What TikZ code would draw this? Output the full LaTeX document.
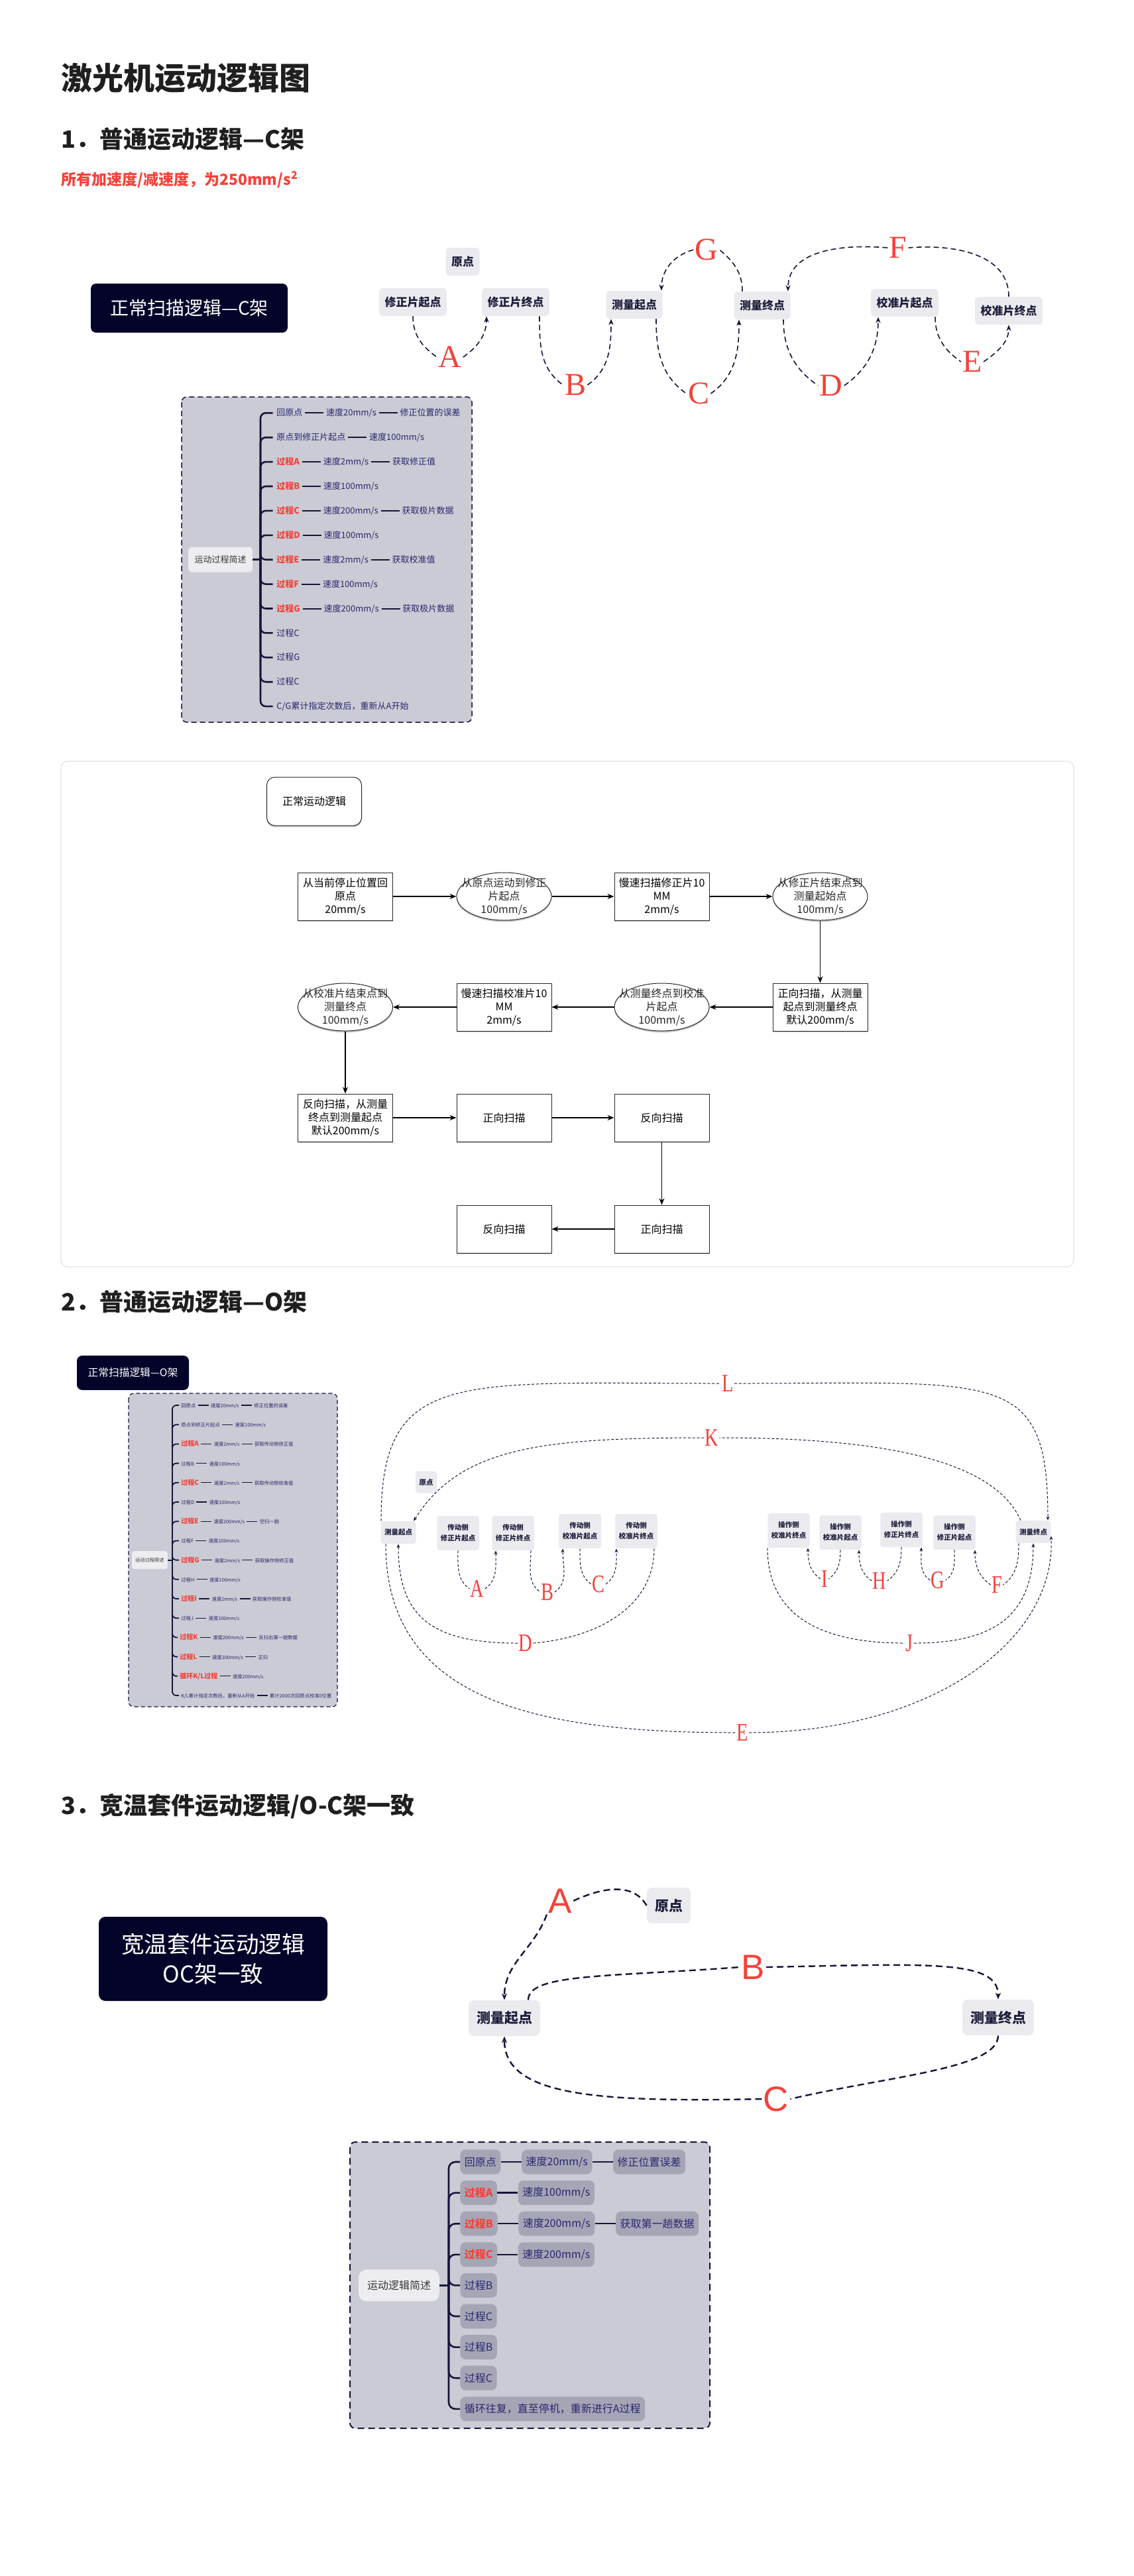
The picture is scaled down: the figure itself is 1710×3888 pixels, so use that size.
\documentclass[tikz,border=0pt]{standalone}
\usepackage{fontspec}
\setmainfont{Noto Sans CJK SC}
\newfontfamily\lserif{Liberation Serif}
\newfontfamily\lsans{Liberation Sans}
\usetikzlibrary{positioning,shapes.geometric,arrows.meta,shadows}
\definecolor{darknavy}{HTML}{04042A}
\definecolor{linenavy}{HTML}{15153A}
\definecolor{nodegray}{HTML}{EBEAEF}
\definecolor{mmfill}{HTML}{CBCBD5}
\definecolor{pillfill}{HTML}{A6A5B6}
\definecolor{textnavy}{HTML}{27276E}
\definecolor{lred}{HTML}{F4423A}
\definecolor{nodetext}{HTML}{1D1D3A}
\definecolor{titlegray}{HTML}{1F1F1F}
\definecolor{rootfill}{HTML}{EDECF1}
\definecolor{framegray}{HTML}{E2E2E2}
\newcommand{\myfs}[2]{\fontsize{#1}{#2}\selectfont}
\begin{document}
\begin{tikzpicture}[x=0.5pt,y=-0.5pt,
  heading/.style={anchor=west,inner sep=0pt,text=titlegray,font=\bfseries\myfs{18}{20}},
  darkbox/.style={fill=darknavy,rounded corners=4pt,text=white,align=center,inner sep=0pt},
  anode/.style={fill=nodegray,rounded corners=3pt,text=nodetext,font=\bfseries\myfs{8.5}{10},inner xsep=4.25pt,inner ysep=0pt,minimum height=21pt},
  anodeb/.style={fill=nodegray,rounded corners=2pt,text=nodetext,font=\bfseries\myfs{5.25}{8},align=center,inner xsep=2.75pt,inner ysep=0pt,minimum height=17pt},
  anodec/.style={anodeb,minimum height=26pt,minimum width=31.5pt},
  anoded/.style={fill=nodegray,rounded corners=4pt,text=nodetext,font=\bfseries\myfs{10.5}{12},inner xsep=6pt,inner ysep=0pt,minimum height=27pt},
  lab1/.style={text=lred,font=\lserif\myfs{24}{24},inner sep=1pt},
  lab2/.style={text=lred,font=\lserif\myfs{19}{19},inner sep=0.5pt},
  lab3/.style={text=lred,font=\lsans\myfs{26.5}{26.5},inner sep=1pt},
  conn1/.style={draw=linenavy,line width=0.8pt,dash pattern=on 4pt off 2.5pt},
  conn2/.style={draw=linenavy,line width=0.5pt,dash pattern=on 2pt off 1.4pt},
  conn3/.style={draw=linenavy,line width=1.2pt,dash pattern=on 5pt off 3pt},
  tip1/.style={-{Stealth[length=4.5pt,width=3.6pt]}},
  tip2/.style={-{Stealth[length=3pt,width=2.5pt]}},
  tip3/.style={-{Stealth[length=5pt,width=4pt]}},
  mmbox/.style={fill=mmfill,draw=linenavy,line width=0.75pt,dash pattern=on 4pt off 2.5pt,rounded corners=4pt},
  mroot/.style={fill=rootfill,rounded corners=3pt,text=black!78,inner sep=0pt},
  mi1/.style={text=textnavy,font=\myfs{6.5}{7},inner xsep=1.75pt,inner ysep=0.5pt,text height=5.6pt,text depth=1pt},
  mr1/.style={mi1,text=lred,font=\bfseries\myfs{6.5}{7}},
  mi2/.style={text=textnavy,font=\myfs{3.65}{4},inner xsep=1.5pt,inner ysep=0.3pt,text height=4.2pt,text depth=0.8pt},
  mr2/.style={mi2,text=lred,font=\bfseries\myfs{5}{5.5}},
  pill/.style={fill=pillfill,rounded corners=4pt,text=textnavy,font=\myfs{8}{9},inner xsep=3.25pt,inner ysep=0pt,minimum height=18.5pt},
  pillr/.style={pill,text=lred,font=\bfseries\myfs{8}{9}},
  ml1/.style={draw=linenavy,line width=1pt},
  ml2/.style={draw=linenavy,line width=0.6pt},
  ml3/.style={draw=linenavy,line width=1.2pt},
  spine1/.style={draw=linenavy,line width=1.3pt,rounded corners=4pt},
  spine2/.style={draw=linenavy,line width=0.9pt,rounded corners=3pt},
  spine3/.style={draw=linenavy,line width=1.3pt,rounded corners=5pt},
  fbox/.style={draw=black!85,fill=white,line width=0.5pt,minimum width=71.5pt,minimum height=36pt,inner sep=0pt,align=center,font=\myfs{8}{10},drop shadow={shadow xshift=0pt,shadow yshift=-1.2pt,opacity=0.45}},
  fell/.style={ellipse,draw=black!85,fill=white,line width=0.5pt,minimum width=71.5pt,minimum height=36pt,inner sep=0pt,drop shadow={shadow xshift=0pt,shadow yshift=-1.2pt,opacity=0.45}},
  ftext/.style={font=\myfs{8}{10},align=center,inner sep=0pt,text=black!85},
  farrow/.style={draw=black,line width=0.6pt,-{Stealth[length=5pt,width=4pt]}}
]
\fill[white] (0,0) rectangle (1710,3888);
\useasboundingbox (0,0) rectangle (1710,3888);

% ---------- titles ----------
\node[heading,font=\bfseries\myfs{23.5}{26}] (title) at (92,118) {激光机运动逻辑图};
\node[heading] (h1) at (92,210) {1．普通运动逻辑—C架};
\node[anchor=west,inner sep=0pt,text=lred,font=\bfseries\myfs{11.5}{13}] (note) at (92,271) {所有加速度/减速度，为250mm/s\textsuperscript{2}};
\node[heading] (h2) at (92,1965) {2．普通运动逻辑—O架};
\node[heading] (h3) at (92,2726) {3．宽温套件运动逻辑/O-C架一致};

% ---------- section 1 arc diagram ----------
\node[darkbox,minimum width=148.5pt,minimum height=37pt,font=\myfs{14}{16}] (tb1) at (285.5,465) {正常扫描逻辑—C架};
\node[anode] (o1) at (698,395) {原点};
\node[anode] (s1) at (623,456) {修正片起点};
\node[anode] (s2) at (778,456) {修正片终点};
\node[anode] (m1) at (957,460) {测量起点};
\node[anode] (m2) at (1150,461) {测量终点};
\node[anode] (c1) at (1365,457) {校准片起点};
\node[anode] (c2) at (1522,469) {校准片终点};
\node[lab1] (LA) at (679,539) {A};
\node[lab1] (LB) at (868,581) {B};
\node[lab1] (LC) at (1054,594) {C};
\node[lab1] (LD) at (1254,582) {D};
\node[lab1] (LE) at (1467,546) {E};
\node[lab1] (LF) at (1355,374) {F};
\node[lab1] (LG) at (1066,377) {G};
\draw[conn1] (s1.south) to[out=-90,in=145] (LA.west);
\draw[conn1,tip1] (LA.east) to[out=35,in=-90] ([xshift=-22pt]s2.south);
\draw[conn1] ([xshift=18pt]s2.south) to[out=-90,in=145] (LB.west);
\draw[conn1,tip1] (LB.east) to[out=35,in=-90] ([xshift=-17.5pt]m1.south);
\draw[conn1] ([xshift=16.5pt]m1.south) to[out=-90,in=145] (LC.west);
\draw[conn1,tip1] (LC.east) to[out=35,in=-90] ([xshift=-17.5pt]m2.south);
\draw[conn1] ([xshift=16pt]m2.south) to[out=-90,in=145] (LD.west);
\draw[conn1,tip1] (LD.east) to[out=35,in=-90] ([xshift=-20pt]c1.south);
\draw[conn1] ([xshift=23pt]c1.south) to[out=-90,in=145] (LE.west);
\draw[conn1,tip1] (LE.east) to[out=35,in=-90] (c2.south);
\draw[conn1] (c2.north) to[out=90,in=5] (LF.east);
\draw[conn1,tip1] (LF.west) to[out=175,in=90] ([xshift=19.5pt]m2.north);
\draw[conn1] ([xshift=-15pt]m2.north) to[out=90,in=-40] (LG.east);
\draw[conn1,tip1] (LG.west) to[out=195,in=90] ([xshift=20.5pt]m1.north);

% ---------- section 1 mind map ----------
\draw[mmbox] (274,599) rectangle (712,1090);
\node[mroot,minimum width=48.5pt,minimum height=19pt,font=\myfs{6.5}{7}] (root1) at (332.5,844.7) {运动过程简述};
\coordinate (sp1) at (393,844.7);
\node[mi1,anchor=west] (a1) at (413.5,623.3) {回原点};
\node[mi1,right=14pt of a1] (a1b) {速度20mm/s};
\node[mi1,right=14pt of a1b] (a1c) {修正位置的误差};
\node[mi1,anchor=west] (a2) at (413.5,660.2) {原点到修正片起点};
\node[mi1,right=14pt of a2] (a2b) {速度100mm/s};
\node[mr1,anchor=west] (a3) at (413.5,697.1) {过程A};
\node[mi1,right=14pt of a3] (a3b) {速度2mm/s};
\node[mi1,right=14pt of a3b] (a3c) {获取修正值};
\node[mr1,anchor=west] (a4) at (413.5,734.0) {过程B};
\node[mi1,right=14pt of a4] (a4b) {速度100mm/s};
\node[mr1,anchor=west] (a5) at (413.5,770.9) {过程C};
\node[mi1,right=14pt of a5] (a5b) {速度200mm/s};
\node[mi1,right=14pt of a5b] (a5c) {获取极片数据};
\node[mr1,anchor=west] (a6) at (413.5,807.8) {过程D};
\node[mi1,right=14pt of a6] (a6b) {速度100mm/s};
\node[mr1,anchor=west] (a7) at (413.5,844.7) {过程E};
\node[mi1,right=14pt of a7] (a7b) {速度2mm/s};
\node[mi1,right=14pt of a7b] (a7c) {获取校准值};
\node[mr1,anchor=west] (a8) at (413.5,881.6) {过程F};
\node[mi1,right=14pt of a8] (a8b) {速度100mm/s};
\node[mr1,anchor=west] (a9) at (413.5,918.5) {过程G};
\node[mi1,right=14pt of a9] (a9b) {速度200mm/s};
\node[mi1,right=14pt of a9b] (a9c) {获取极片数据};
\node[mi1,anchor=west] (a10) at (413.5,955.4) {过程C};
\node[mi1,anchor=west] (a11) at (413.5,992.3) {过程G};
\node[mi1,anchor=west] (a12) at (413.5,1029.2) {过程C};
\node[mi1,anchor=west] (a13) at (413.5,1066.1) {C/G累计指定次数后，重新从A开始};
\foreach \p/\q in {a1/a1b,a1b/a1c,a2/a2b,a3/a3b,a3b/a3c,a4/a4b,a5/a5b,a5b/a5c,a6/a6b,a7/a7b,a7b/a7c,a8/a8b,a9/a9b,a9b/a9c}
  \draw[ml1] (\p) -- (\q);
\draw[spine1] (root1.east) -- (sp1);
\foreach \n in {1,...,13} \draw[spine1] (sp1) |- ([xshift=-1pt]a\n.west);

% ---------- flowchart ----------
\draw[framegray,line width=0.6pt,rounded corners=5pt] (92,1149) rectangle (1620,1912);
\node[fbox,rounded corners=6pt,minimum height=36.5pt] (fl0) at (474,1209.5) {正常运动逻辑};
\node[fbox] (f1) at (521,1353) {从当前停止位置回\\原点\\20mm/s};
\node[fell] (f2) at (760.5,1353) {};
\node[ftext] (f2t) at (f2) {从原点运动到修正\\片起点\\100mm/s};
\node[fbox] (f3) at (998.5,1353) {慢速扫描修正片10\\MM\\2mm/s};
\node[fell] (f4) at (1237.5,1353) {};
\node[ftext] (f4t) at (f4) {从修正片结束点到\\测量起始点\\100mm/s};
\node[fbox] (f5) at (1237.5,1520) {正向扫描，从测量\\起点到测量终点\\默认200mm/s};
\node[fell] (f6) at (998.5,1520) {};
\node[ftext] (f6t) at (f6) {从测量终点到校准\\片起点\\100mm/s};
\node[fbox] (f7) at (760.5,1520) {慢速扫描校准片10\\MM\\2mm/s};
\node[fell] (f8) at (521,1520) {};
\node[ftext] (f8t) at (f8) {从校准片结束点到\\测量终点\\100mm/s};
\node[fbox] (f9) at (521,1687) {反向扫描，从测量\\终点到测量起点\\默认200mm/s};
\node[fbox] (f10) at (760.5,1687) {正向扫描};
\node[fbox] (f11) at (998.5,1687) {反向扫描};
\node[fbox] (f12) at (998.5,1855) {正向扫描};
\node[fbox] (f13) at (760.5,1855) {反向扫描};
\foreach \p/\q in {f1/f2,f2/f3,f3/f4,f4/f5,f5/f6,f6/f7,f7/f8,f8/f9,f9/f10,f10/f11,f11/f12,f12/f13}
  \draw[farrow] (\p) -- (\q);

% ---------- section 2 ----------
\node[darkbox,minimum width=84.5pt,minimum height=26pt,font=\myfs{7.85}{9}] (tb2) at (200.5,2072) {正常扫描逻辑—O架};
\draw[mmbox,line width=0.6pt,dash pattern=on 3pt off 2pt] (194,2103) rectangle (509,2576);
\node[mroot,minimum width=27pt,minimum height=13.5pt,rounded corners=2pt,font=\myfs{3.6}{4}] (root2) at (226,2354.6) {运动过程简述};
\coordinate (sp2) at (260,2354.6);
\node[mi2,anchor=west] (q1) at (270,2121) {回原点};
\node[mi2,right=8pt of q1] (q1b) {速度20mm/s};
\node[mi2,right=8pt of q1b] (q1c) {修正位置的误差};
\node[mi2,anchor=west] (q2) at (270,2150.2) {原点到修正片起点};
\node[mi2,right=8pt of q2] (q2b) {速度100mm/s};
\node[mr2,anchor=west] (q3) at (270,2179.4) {过程A};
\node[mi2,right=8pt of q3] (q3b) {速度2mm/s};
\node[mi2,right=8pt of q3b] (q3c) {获取传动侧修正值};
\node[mi2,anchor=west] (q4) at (270,2208.6) {过程B};
\node[mi2,right=8pt of q4] (q4b) {速度100mm/s};
\node[mr2,anchor=west] (q5) at (270,2237.8) {过程C};
\node[mi2,right=8pt of q5] (q5b) {速度2mm/s};
\node[mi2,right=8pt of q5b] (q5c) {获取传动侧校准值};
\node[mi2,anchor=west] (q6) at (270,2267) {过程D};
\node[mi2,right=8pt of q6] (q6b) {速度100mm/s};
\node[mr2,anchor=west] (q7) at (270,2296.2) {过程E};
\node[mi2,right=8pt of q7] (q7b) {速度200mm/s};
\node[mi2,right=8pt of q7b] (q7c) {空扫一趟};
\node[mi2,anchor=west] (q8) at (270,2325.4) {过程F};
\node[mi2,right=8pt of q8] (q8b) {速度100mm/s};
\node[mr2,anchor=west] (q9) at (270,2354.6) {过程G};
\node[mi2,right=8pt of q9] (q9b) {速度2mm/s};
\node[mi2,right=8pt of q9b] (q9c) {获取操作侧修正值};
\node[mi2,anchor=west] (q10) at (270,2383.8) {过程H};
\node[mi2,right=8pt of q10] (q10b) {速度100mm/s};
\node[mr2,anchor=west] (q11) at (270,2413) {过程I};
\node[mi2,right=8pt of q11] (q11b) {速度2mm/s};
\node[mi2,right=8pt of q11b] (q11c) {获取操作侧校准值};
\node[mi2,anchor=west] (q12) at (270,2442.2) {过程J};
\node[mi2,right=8pt of q12] (q12b) {速度100mm/s};
\node[mr2,anchor=west] (q13) at (268,2471.4) {过程K};
\node[mi2,right=8pt of q13] (q13b) {速度200mm/s};
\node[mi2,right=8pt of q13b] (q13c) {反扫出第一趟数据};
\node[mr2,anchor=west] (q14) at (268,2500.6) {过程L};
\node[mi2,right=8pt of q14] (q14b) {速度200mm/s};
\node[mi2,right=8pt of q14b] (q14c) {正扫};
\node[mr2,anchor=west] (q15) at (268,2529.8) {循环K/L过程};
\node[mi2,right=8pt of q15] (q15b) {速度200mm/s};
\node[mi2,anchor=west] (q16) at (270,2559) {K/L累计指定次数后，重新从A开始};
\node[mi2,right=8pt of q16] (q16b) {累计2000次回原点校准0位置};
\foreach \p/\q in {q1/q1b,q1b/q1c,q2/q2b,q3/q3b,q3b/q3c,q4/q4b,q5/q5b,q5b/q5c,q6/q6b,q7/q7b,q7b/q7c,q8/q8b,q9/q9b,q9b/q9c,q10/q10b,q11/q11b,q11b/q11c,q12/q12b,q13/q13b,q13b/q13c,q14/q14b,q14b/q14c,q15/q15b,q16/q16b}
  \draw[ml2] (\p) -- (\q);
\draw[spine2] (root2.east) -- (sp2);
\foreach \n in {1,...,16} \draw[spine2] (sp2) |- (q\n.west);

% section 2 arc diagram
\node[anodeb,minimum width=15.5pt,minimum height=16.5pt] (o2) at (643,2237) {原点};
\node[anodeb] (ms) at (601,2313) {测量起点};
\node[anodec] (t1) at (691,2314) {传动侧\\修正片起点};
\node[anodec] (t2) at (774,2314) {传动侧\\修正片终点};
\node[anodec] (t3) at (875,2311) {传动侧\\校准片起点};
\node[anodec] (t4) at (960,2311) {传动侧\\校准片终点};
\node[anodec] (p4) at (1190,2310) {操作侧\\校准片终点};
\node[anodec] (p3) at (1268,2313) {操作侧\\校准片起点};
\node[anodec] (p2) at (1360,2309) {操作侧\\修正片终点};
\node[anodec] (p1) at (1440,2313) {操作侧\\修正片起点};
\node[anodeb] (me) at (1559,2312) {测量终点};
\node[lab2] (KA) at (720,2398) {\scalebox{0.75}[1]{A}};
\node[lab2] (KB) at (826,2403) {\scalebox{0.75}[1]{B}};
\node[lab2] (KC) at (903,2391) {\scalebox{0.75}[1]{C}};
\node[lab2] (KD) at (793,2480) {\scalebox{0.75}[1]{D}};
\node[lab2] (KE) at (1120,2615) {\scalebox{0.75}[1]{E}};
\node[lab2] (KF) at (1504,2392) {\scalebox{0.75}[1]{F}};
\node[lab2] (KG) at (1415,2385) {\scalebox{0.75}[1]{G}};
\node[lab2] (KH) at (1327,2386) {\scalebox{0.75}[1]{H}};
\node[lab2] (KI) at (1244,2383) {\scalebox{0.75}[1]{I}};
\node[lab2] (KJ) at (1372,2480) {\scalebox{0.75}[1]{J}};
\node[lab2] (KK) at (1074,2170) {\scalebox{0.75}[1]{K}};
\node[lab2] (KL) at (1098,2088) {\scalebox{0.75}[1]{L}};
\draw[conn2] (t1.south) to[out=-90,in=145] (KA.west);
\draw[conn2,tip2] (KA.east) to[out=35,in=-90] ([xshift=-13pt]t2.south);
\draw[conn2] ([xshift=13.5pt]t2.south) to[out=-90,in=145] (KB.west);
\draw[conn2,tip2] (KB.east) to[out=35,in=-90] ([xshift=-13pt]t3.south);
\draw[conn2] (t3.south) to[out=-90,in=145] (KC.west);
\draw[conn2,tip2] (KC.east) to[out=35,in=-90] ([xshift=-15pt]t4.south);
\draw[conn2] ([xshift=13.5pt]t4.south) .. controls +(0,80) and +(110,-10) .. (KD.east);
\draw[conn2,tip2] (KD.west) .. controls +(-130,0) and +(0,110) .. (ms.south);
\draw[conn2] ([xshift=-9.5pt]ms.south) .. controls +(0,240) and +(-293,0) .. (KE.west);
\draw[conn2,tip2] (KE.east) .. controls +(272,0) and +(7,160) .. ([yshift=5.5pt]me.south east);
\draw[conn2] ([xshift=-11pt]me.south) to[out=-90,in=35] (KF.east);
\draw[conn2,tip2] (KF.west) to[out=145,in=-90] ([xshift=15.5pt]p1.south);
\draw[conn2] (p1.south) to[out=-90,in=35] (KG.east);
\draw[conn2,tip2] (KG.west) to[out=145,in=-90] ([xshift=15pt]p2.south);
\draw[conn2] (p2.south) to[out=-90,in=35] (KH.east);
\draw[conn2,tip2] (KH.west) to[out=145,in=-90] ([xshift=14pt]p3.south);
\draw[conn2] (p3.south) to[out=-90,in=35] (KI.east);
\draw[conn2,tip2] (KI.west) to[out=145,in=-90] ([xshift=14.5pt]p4.south);
\draw[conn2] ([xshift=-16pt]p4.south) .. controls +(0,100) and +(-130,0) .. (KJ.west);
\draw[conn2,tip2] (KJ.east) .. controls +(120,0) and +(0,110) .. (me.south);
\draw[conn2] ([xshift=-9.5pt]me.north) .. controls +(-40,-90) and +(250,0) .. (KK.east);
\draw[conn2,tip2] (KK.west) .. controls +(-250,0) and +(70,-110) .. ([xshift=11.5pt]ms.north);
\draw[conn2] ([xshift=-13pt]ms.north) .. controls +(0,-230) and +(-400,0) .. (KL.west);
\draw[conn2,tip2] (KL.east) .. controls +(400,0) and +(0,-230) .. ([xshift=11pt]me.north);

% ---------- section 3 ----------
\node[darkbox,minimum width=172.5pt,minimum height=63.5pt,font=\myfs{17.3}{22.5},rounded corners=5pt] (tb3) at (321.5,2956.5) {宽温套件运动逻辑\\OC架一致};
\node[anoded] (o3) at (1009,2876) {原点};
\node[anoded] (ms3) at (761,3046) {测量起点};
\node[anoded] (me3) at (1506,3045) {测量终点};
\node[lab3] (JA) at (845,2869) {A};
\node[lab3] (JB) at (1136,2969) {B};
\node[lab3] (JC) at (1171,3168) {C};
\draw[conn3] (o3.west) to[out=120,in=25] (JA.east);
\draw[conn3,tip3] (JA.south west) to[out=-110,in=90] (ms3.north);
\draw[conn3] ([xshift=18pt]ms3.north) .. controls +(0,-40) and +(-200,15) .. (JB.west);
\draw[conn3,tip3] (JB.east) .. controls +(250,-5) and +(0,-60) .. (me3.north);
\draw[conn3] (me3.south) .. controls +(0,50) and +(150,-35) .. (JC.east);
\draw[conn3,tip3] (JC.west) .. controls +(-250,5) and +(0,90) .. (ms3.south);

\draw[mmbox,line width=1pt,dash pattern=on 5pt off 3pt] (528,3233) rectangle (1071,3665);
\node[mroot,minimum width=61pt,minimum height=24pt,rounded corners=6pt,font=\myfs{8}{9}] (root3) at (602,3449.4) {运动逻辑简述};
\coordinate (sp3) at (677,3449.4);
\node[pill,anchor=west] (w1) at (694,3263) {回原点};
\node[pill,right=15.5pt of w1] (w1b) {速度20mm/s};
\node[pill,right=15.5pt of w1b] (w1c) {修正位置误差};
\node[pillr,anchor=west] (w2) at (694,3309.6) {过程A};
\node[pill,right=15.5pt of w2] (w2b) {速度100mm/s};
\node[pillr,anchor=west] (w3) at (694,3356.2) {过程B};
\node[pill,right=15.5pt of w3] (w3b) {速度200mm/s};
\node[pill,right=15.5pt of w3b] (w3c) {获取第一趟数据};
\node[pillr,anchor=west] (w4) at (694,3402.8) {过程C};
\node[pill,right=15.5pt of w4] (w4b) {速度200mm/s};
\node[pill,anchor=west] (w5) at (694,3449.4) {过程B};
\node[pill,anchor=west] (w6) at (694,3496) {过程C};
\node[pill,anchor=west] (w7) at (694,3542.6) {过程B};
\node[pill,anchor=west] (w8) at (694,3589.2) {过程C};
\node[pill,anchor=west] (w9) at (694,3635.8) {循环往复，直至停机，重新进行A过程};
\foreach \p/\q in {w1/w1b,w1b/w1c,w2/w2b,w3/w3b,w3b/w3c,w4/w4b}
  \draw[ml3] (\p) -- (\q);
\draw[spine3] (root3.east) -- (sp3);
\foreach \n in {1,...,9} \draw[spine3] (sp3) |- (w\n.west);
\end{tikzpicture}
\end{document}
